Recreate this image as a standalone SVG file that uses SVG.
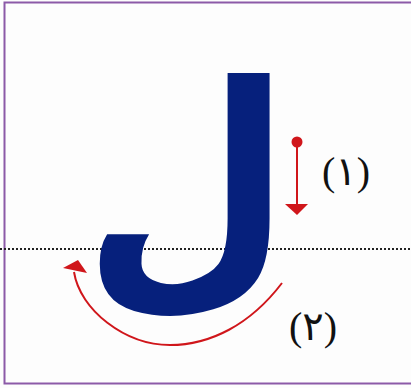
<svg xmlns="http://www.w3.org/2000/svg" width="411" height="388" viewBox="0 0 411 388">
<style>
.red{fill:none;stroke:#d0161b;stroke-width:2}
.redf{fill:#d0161b}
.lbl{font-family:"Liberation Serif","DejaVu Sans",serif;font-size:40px;fill:#111;text-anchor:middle}
</style>
<rect x="0" y="0" width="411" height="388" fill="#fdfdfd"/>
<rect x="4.5" y="2.5" width="410" height="381" fill="none" stroke="#8c5aa8" stroke-width="2"/>
<line x1="0" y1="249" x2="411" y2="249" stroke="#222" stroke-width="2" stroke-dasharray="2,2"/>
<g id="letter" transform="translate(187,70) scale(1.0,1.1) translate(-187,-70)">
<text x="187" y="255" font-family="DejaVu Sans, sans-serif" font-weight="bold" font-size="240" fill="#06207c" text-anchor="middle">ل</text>
</g>
<g id="connectors">
<circle class="redf" cx="297" cy="142" r="5.5"/>
<line class="red" x1="297" y1="142" x2="297" y2="205"/>
<polygon class="redf" points="285,204 308,204 297,215"/>
<path class="red" d="M282,283 C250,325 210,345 170,345 C125,345 80,310 74,272"/>
<polygon class="redf" points="63,268 78,260 87,273"/>
</g>
<g id="label1"><text class="lbl" x="346" y="185">(١)</text></g>
<g id="label2"><text class="lbl" x="313" y="340">(٢)</text></g>
</svg>
